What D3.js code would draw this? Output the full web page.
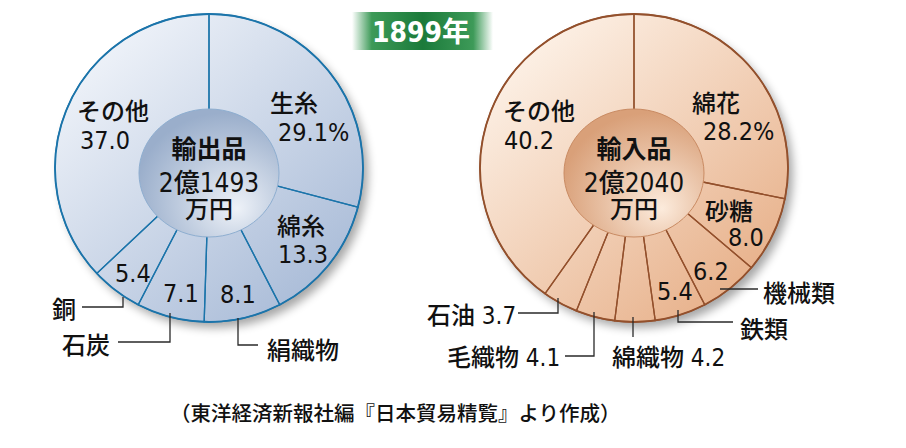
<!DOCTYPE html>
<html>
<head>
<meta charset="utf-8">
<script src="https://cdn.jsdelivr.net/npm/d3@7"></script>
<style>
  body { margin: 0; background: #fff; }
  svg text { font-family: "Liberation Sans Narrow", "DejaVu Sans Condensed", "Noto Sans CJK JP", sans-serif; fill: #111; font-weight: 500; }
</style>
</head>
<body>
<div id="chart"></div>
<script>
// 1899 export / import composition (%)
var exportNames = ["生糸", "綿糸", "絹織物", "石炭", "銅", "その他"];
var exportValues = [29.1, 13.3, 8.1, 7.1, 5.4, 37.0];
var importNames = ["綿花", "砂糖", "機械類", "鉄類", "綿織物", "毛織物", "石油", "その他"];
var importValues = [28.2, 8.0, 6.2, 5.4, 4.2, 4.1, 3.7, 40.2];
var titleText = "1899年";
var exportCenter = ["輸出品", "2億1493", "万円"];
var importCenter = ["輸入品", "2億2040", "万円"];
var sourceText = "（東洋経済新報社編『日本貿易精覧』より作成）";

var width = 906, height = 448;
var R = 154;

var svg = d3.select("#chart").append("svg")
    .attr("width", width)
    .attr("height", height);

var defs = svg.append("defs");

var shadow = defs.append("filter").attr("id", "shadow")
    .attr("x", "-20%").attr("y", "-20%").attr("width", "150%").attr("height", "150%");
shadow.append("feGaussianBlur").attr("in", "SourceAlpha").attr("stdDeviation", 5);
shadow.append("feOffset").attr("dx", 5).attr("dy", 6).attr("result", "off");
shadow.append("feComponentTransfer").append("feFuncA").attr("type", "linear").attr("slope", 0.35);
var merge = shadow.append("feMerge");
merge.append("feMergeNode");
merge.append("feMergeNode").attr("in", "SourceGraphic");

function linGrad(id, c0, c1) {
    var g = defs.append("linearGradient").attr("id", id)
        .attr("x1", "10%").attr("y1", "5%").attr("x2", "90%").attr("y2", "95%");
    g.append("stop").attr("offset", "0%").attr("stop-color", c0);
    g.append("stop").attr("offset", "100%").attr("stop-color", c1);
}
function radGrad(id, c0, c1) {
    var g = defs.append("radialGradient").attr("id", id)
        .attr("cx", "62%").attr("cy", "68%").attr("r", "65%")
        .attr("fx", "70%").attr("fy", "78%");
    g.append("stop").attr("offset", "0%").attr("stop-color", c0);
    g.append("stop").attr("offset", "100%").attr("stop-color", c1);
}
linGrad("blueFill", "#f3f6fb", "#a6b9d6");
linGrad("tanFill", "#fef5ec", "#e6ad85");
radGrad("blueHub", "#eef2f8", "#9aaecb");
radGrad("tanHub", "#fcebdc", "#d9a079");

var pie = d3.pie().sort(null).value(function (d) { return d; });
var arc = d3.arc().innerRadius(0).outerRadius(R);

function donut(cx, cy, values, fill, stroke, hub, hubStroke, center) {
    var g = svg.append("g").attr("transform", "translate(" + cx + "," + cy + ")");
    g.append("circle").attr("r", R).attr("fill", "url(#" + fill + ")")
        .attr("filter", "url(#shadow)");
    g.append("g").selectAll("path")
        .data(pie(values))
        .enter().append("path")
        .attr("d", arc)
        .attr("fill", "none")
        .attr("stroke", stroke)
        .attr("stroke-width", 1.3);
    g.append("circle").attr("r", R).attr("fill", "none")
        .attr("stroke", stroke).attr("stroke-width", 1.8);
    g.append("ellipse").attr("cx", 0).attr("cy", 5)
        .attr("rx", 70).attr("ry", 64)
        .attr("fill", "url(#" + hub + ")")
        .attr("stroke", hubStroke).attr("stroke-width", 1);
    g.append("text").attr("x", 0).attr("y", -10).attr("text-anchor", "middle")
        .style("font-size", "25px").style("font-weight", "bold")
        .style("font-family", "'Noto Sans CJK JP', sans-serif")
        .text(center[0]);
    g.append("text").attr("x", 0).attr("y", 24).attr("text-anchor", "middle")
        .style("font-size", "26px").text(center[1]);
    g.append("text").attr("x", 0).attr("y", 50).attr("text-anchor", "middle")
        .style("font-size", "24px").text(center[2]);
    return g;
}

var left = donut(209, 168, exportValues, "blueFill", "#1b74aa", "blueHub", "#8eaed0", exportCenter);
var right = donut(634, 168, importValues, "tanFill", "#93502c", "tanHub", "#c98b63", importCenter);

function label(g, x, y, s, size) {
    g.append("text").attr("x", x).attr("y", y)
        .style("font-size", (size || 24) + "px").text(s);
}
function leader(g, pts) {
    g.append("path").attr("d", d3.line()(pts))
        .attr("fill", "none").attr("stroke", "#2a2a2a").attr("stroke-width", 1.3);
}

// export labels (relative to centre)
label(left, -132, -48, exportNames[5]);
label(left, -129, -19, exportValues[5].toFixed(1), 25);
label(left, 61, -56, exportNames[0]);
label(left, 69, -27, exportValues[0].toFixed(1) + "%", 25);
label(left, 68, 67, exportNames[1]);
label(left, 69, 95, exportValues[1].toFixed(1), 25);
label(left, -94, 114, exportValues[4].toFixed(1), 25);
label(left, -46, 134, exportValues[3].toFixed(1), 25);
label(left, 11, 135, exportValues[2].toFixed(1), 25);
label(left, -157, 150, exportNames[4]);
leader(left, [[-127, 139], [-86, 139], [-86, 129]]);
label(left, -147, 186, exportNames[3]);
leader(left, [[-91, 174], [-39, 174], [-39, 145]]);
label(left, 58, 191, exportNames[2]);
leader(left, [[29, 150], [29, 177], [49, 177]]);

// import labels
label(right, -131, -48, importNames[7]);
label(right, -130, -19, importValues[7].toFixed(1), 25);
label(right, 58, -56, importNames[0]);
label(right, 69, -28, importValues[0].toFixed(1) + "%", 25);
label(right, 71, 52, importNames[1]);
label(right, 94, 78, importValues[1].toFixed(1), 25);
label(right, 59, 112, importValues[2].toFixed(1), 25);
label(right, 23, 132, importValues[3].toFixed(1), 25);
label(right, 129, 134, importNames[2]);
leader(right, [[86, 121], [124, 121]]);
label(right, 106, 170, importNames[3]);
leader(right, [[44, 142], [44, 154], [99, 154]]);
label(right, -207, 156, importNames[6] + " " + importValues[6].toFixed(1));
leader(right, [[-116, 145], [-76, 145], [-76, 130]]);
label(right, -187, 198, importNames[5] + " " + importValues[5].toFixed(1));
leader(right, [[-69, 188], [-40, 188], [-40, 144]]);
label(right, -22, 198, importNames[4] + " " + importValues[4].toFixed(1));
leader(right, [[-1, 149], [-1, 169]]);

// title badge
var tg = defs.append("linearGradient").attr("id", "badge");
tg.append("stop").attr("offset", "0%").attr("stop-color", "#ffffff");
tg.append("stop").attr("offset", "14%").attr("stop-color", "#3d9a58");
tg.append("stop").attr("offset", "50%").attr("stop-color", "#1b7a3a");
tg.append("stop").attr("offset", "86%").attr("stop-color", "#3d9a58");
tg.append("stop").attr("offset", "100%").attr("stop-color", "#ffffff");
svg.append("rect").attr("x", 352).attr("y", 12).attr("width", 141).attr("height", 38)
    .attr("fill", "url(#badge)");
svg.append("text").attr("x", 421).attr("y", 42).attr("text-anchor", "middle")
    .style("font-size", "28px").style("font-weight", "bold").style("fill", "#fff")
    .text(titleText);

svg.append("text").attr("x", 170).attr("y", 421)
    .style("font-size", "20.5px").style("font-family", "'Noto Sans CJK JP', sans-serif")
    .text(sourceText);
</script>
</body>
</html>
